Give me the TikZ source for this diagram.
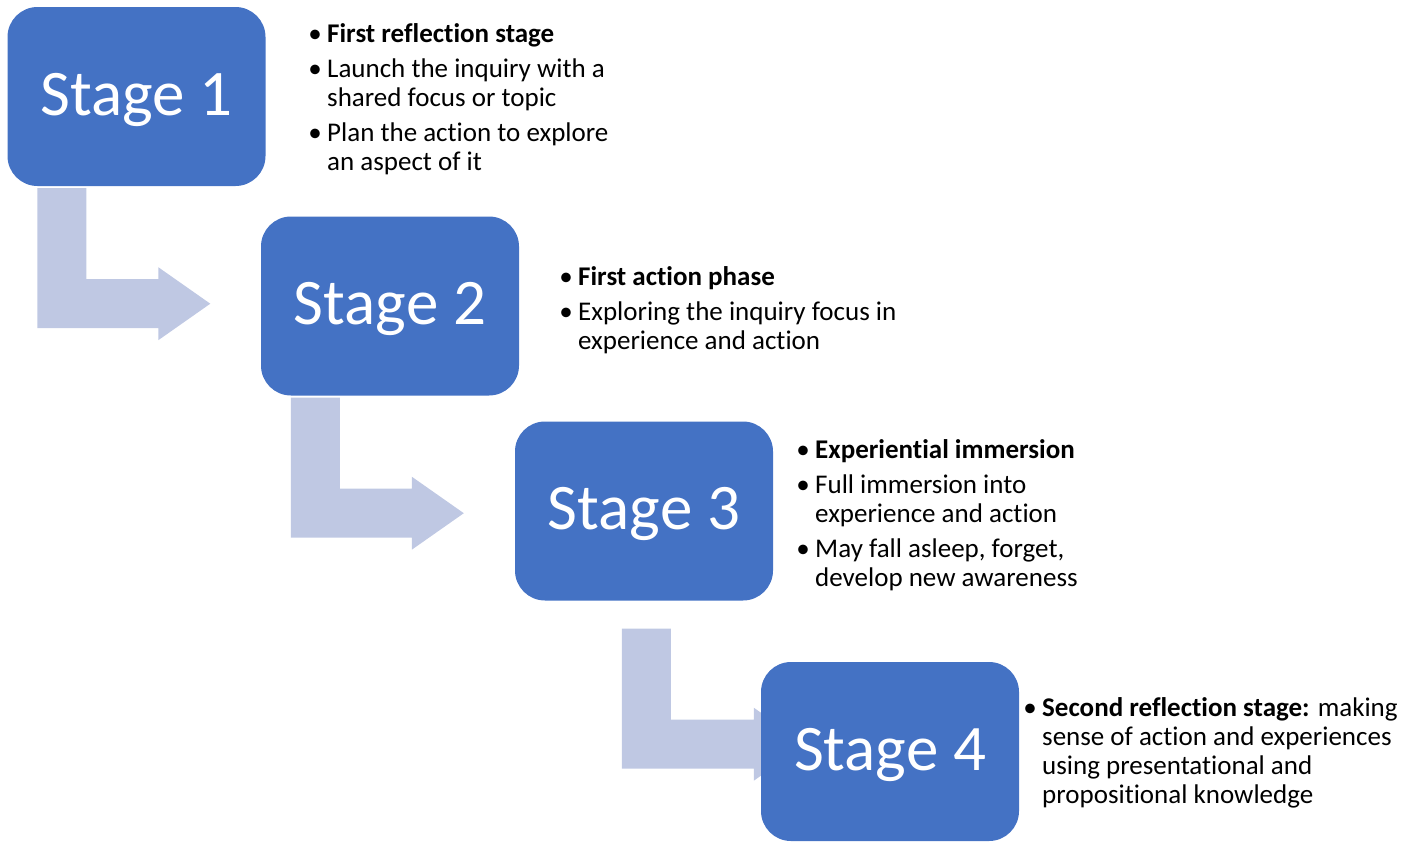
\documentclass[tikz,border=0pt]{standalone}
\usepackage{fontspec}
\setmainfont{Carlito}[Ligatures={NoCommon}]
\usetikzlibrary{calc,backgrounds}
\definecolor{stageblue}{RGB}{68,114,196}
\definecolor{flowblue}{RGB}{191,200,227}
% bullet hanging to the left of the text column
\newcommand\B{\leavevmode\llap{\textbullet\hspace{5.5pt}}}
% bullet block whose baseline is the baseline of its first line
\newcommand\blist[1]{\vtop{\hsize=420pt\parindent=0pt\baselineskip=29pt\lineskip=0pt\lineskiplimit=-20pt #1}}
% bent block arrow: #1 top-left of the stem, #2 stem length, #3 distance to the head
\newcommand\bentarrow[3]{%
  \fill[flow] #1 -- ++(49,0) -- ++(0,#2-49) -- ++(#3-49,0) -- ++(0,-12)
    -- ++(52,36.5) -- ++(-52,36.5) -- ++(0,-12) -- ++(-#3,0) -- cycle;}
\tikzset{
  stagebox/.style={fill=stageblue, draw=none, rounded corners=30pt,
    minimum width=258pt, minimum height=179pt, inner sep=0pt,
    text=white, font=\fontsize{65}{70}\selectfont,
    text height=45pt, text depth=8pt},
  flow/.style={fill=flowblue},
  bullets/.style={anchor=base west, inner sep=0pt, font=\fontsize{27}{29}\selectfont}
}
\begin{document}
\begin{tikzpicture}[x=1pt,y=-1pt]
\useasboundingbox (0,0) rectangle (1413,841);

\node[stagebox] (s1) at (136.5,96.5) {Stage 1};
\node[stagebox] (s2) at (390,306) {Stage 2};
\node[stagebox] (s3) at (644,511) {Stage 3};
\node[stagebox] (s4) at (890,751.5) {Stage 4};

\begin{scope}[on background layer]
  \bentarrow{($(s1.south west)+(30,2)$)}{140}{121}
  \bentarrow{($(s2.south west)+(30,2)$)}{140}{121}
  \bentarrow{($(s3.south west)+(107,28)$)}{140}{132}
\end{scope}

\node[bullets] (t1) at (327,42) {\blist{%
  \B\textbf{First reflection stage}\\[6pt]
  \B Launch the inquiry with a\\shared focus or topic\\[6pt]
  \B Plan the action to explore\\an aspect of it}};

\node[bullets] (t2) at (578,285) {\blist{%
  \B\textbf{First action phase}\\[6pt]
  \B Exploring the inquiry focus in\\experience and action}};

\node[bullets] (t3) at (815,458) {\blist{%
  \B\textbf{Experiential immersion}\\[6pt]
  \B Full immersion into\\experience and action\\[6pt]
  \B May fall asleep, forget,\\develop new awareness}};

\node[bullets] (t4) at (1042,716) {\blist{%
  \B\textbf{Second reflection stage:} making\\
  sense of action and experiences\\
  using presentational and\\
  propositional knowledge}};
\end{tikzpicture}
\end{document}
